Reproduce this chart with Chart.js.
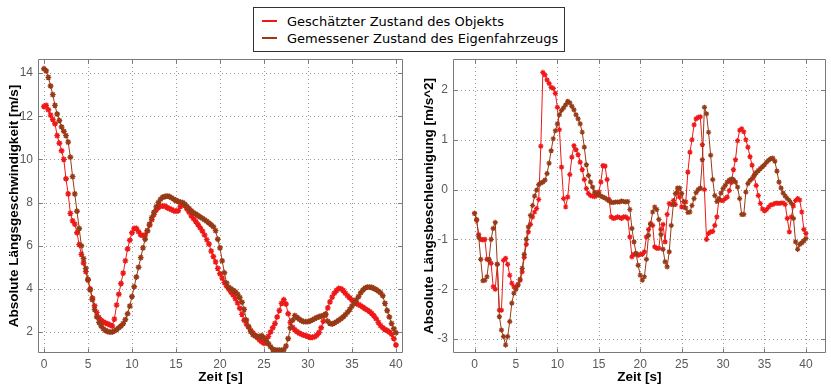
<!DOCTYPE html>
<html>
<head>
<meta charset="utf-8">
<script src="https://cdn.jsdelivr.net/npm/chart.js@4"></script>
<style>
  html, body { margin: 0; padding: 0; background: #fff; }
  #wrap { position: relative; width: 831px; height: 387px; overflow: hidden; background: #fff; }
  #wrap canvas { position: absolute; top: 0; }
  #cV { left: 0; }
  #cA { left: 415px; }
  #legend {
    position: absolute; left: 253px; top: 7px; width: 310px; height: 43px;
    border: 1px solid #333; background: #fff; z-index: 2;
    font: 13px "DejaVu Sans", sans-serif; color: #000;
  }
  #legend .row { position: absolute; left: 8px; height: 16px; display: flex; align-items: center; white-space: nowrap; }
  #legend .sw { width: 15px; height: 2px; margin-right: 10px; }
</style>
</head>
<body>
<div id="wrap">
  <canvas id="cV" width="415" height="387"></canvas>
  <canvas id="cA" width="416" height="387"></canvas>
  <div id="legend">
    <div class="row" style="top:5px"><span class="sw" id="swEst"></span><span id="lbEst"></span></div>
    <div class="row" style="top:22px"><span class="sw" id="swMeas"></span><span id="lbMeas"></span></div>
  </div>
</div>
<script>
// Sample times [s]
const time = [
  0, 0.25, 0.5, 0.75, 1, 1.25, 1.5, 1.75,
  2, 2.25, 2.5, 2.75, 3, 3.25, 3.5, 3.75,
  4, 4.25, 4.5, 4.75, 5, 5.25, 5.5, 5.75,
  6, 6.25, 6.5, 6.75, 7, 7.25, 7.5, 7.75,
  8, 8.25, 8.5, 8.75, 9, 9.25, 9.5, 9.75,
  10, 10.25, 10.5, 10.75, 11, 11.25, 11.5, 11.75,
  12, 12.25, 12.5, 12.75, 13, 13.25, 13.5, 13.75,
  14, 14.25, 14.5, 14.75, 15, 15.25, 15.5, 15.75,
  16, 16.25, 16.5, 16.75, 17, 17.25, 17.5, 17.75,
  18, 18.25, 18.5, 18.75, 19, 19.25, 19.5, 19.75,
  20, 20.25, 20.5, 20.75, 21, 21.25, 21.5, 21.75,
  22, 22.25, 22.5, 22.75, 23, 23.25, 23.5, 23.75,
  24, 24.25, 24.5, 24.75, 25, 25.25, 25.5, 25.75,
  26, 26.25, 26.5, 26.75, 27, 27.25, 27.5, 27.75,
  28, 28.25, 28.5, 28.75, 29, 29.25, 29.5, 29.75,
  30, 30.25, 30.5, 30.75, 31, 31.25, 31.5, 31.75,
  32, 32.25, 32.5, 32.75, 33, 33.25, 33.5, 33.75,
  34, 34.25, 34.5, 34.75, 35, 35.25, 35.5, 35.75,
  36, 36.25, 36.5, 36.75, 37, 37.25, 37.5, 37.75,
  38, 38.25, 38.5, 38.75, 39, 39.25, 39.5, 39.75,
  40
];

// Longitudinal speed [m/s]: estimated object state
const speedEst = [
  12.45, 12.5, 12.3, 12.05, 11.85, 11.65, 11.1, 10.75,
  10.4, 10.0, 9.1, 8.4, 7.5, 7.15, 7.0, 6.6,
  6.05, 5.6, 5.2, 4.8, 4.4, 4.0, 3.58, 3.22,
  2.9, 2.67, 2.55, 2.47, 2.42, 2.38, 2.33, 2.28,
  2.6, 3.25, 3.75, 4.25, 4.73, 5.3, 5.85, 6.25,
  6.6, 6.8, 6.8, 6.65, 6.5, 6.47, 6.5, 6.68,
  6.95, 7.2, 7.45, 7.65, 7.77, 7.83, 7.84, 7.83,
  7.77, 7.72, 7.67, 7.62, 7.6, 7.62, 7.82, 7.94,
  7.86, 7.7, 7.55, 7.38, 7.25, 7.12, 6.98, 6.83,
  6.68, 6.5, 6.28, 6.08, 5.75, 5.5, 5.25, 4.95,
  4.7, 4.5, 4.3, 4.12, 3.98, 3.85, 3.72, 3.55,
  3.35, 3.1, 2.82, 2.55, 2.38, 2.22, 2.07, 1.95,
  1.85, 1.75, 1.63, 1.55, 1.48, 1.5, 1.8, 2.0,
  2.2, 2.4, 2.7, 3.0, 3.33, 3.5, 3.3, 2.85,
  2.45, 2.22, 2.1, 2.02, 1.95, 1.9, 1.86, 1.83,
  1.8, 1.75, 1.76, 1.78, 1.85, 1.98, 2.2, 2.5,
  2.8, 3.12, 3.4, 3.62, 3.8, 3.93, 4.02, 4.0,
  3.93, 3.8, 3.68, 3.58, 3.48, 3.4, 3.33, 3.27,
  3.22, 3.15, 3.08, 3.02, 2.95, 2.86, 2.75, 2.62,
  2.45, 2.3, 2.2, 2.12, 2.07, 2.0, 1.9, 1.7,
  1.4
];

// Longitudinal speed [m/s]: measured ego vehicle state
const speedMeas = [
  14.2, 14.1, 13.8, 13.4, 13.0, 12.5, 12.1, 11.8,
  11.5, 11.3, 11.1, 10.8, 10.1, 9.2, 8.4, 7.6,
  6.8, 6.0, 5.4, 4.95, 4.45, 3.95, 3.5, 3.05,
  2.7, 2.45, 2.28, 2.15, 2.08, 2.02, 2.0, 2.0,
  2.05, 2.12, 2.2, 2.28, 2.4, 2.58, 2.85, 3.2,
  3.65, 4.1, 4.55, 5.0, 5.45, 5.9, 6.3, 6.7,
  7.0, 7.3, 7.55, 7.8, 8.0, 8.15, 8.25, 8.28,
  8.3, 8.28, 8.22, 8.15, 8.1, 8.05, 8.02, 8.0,
  7.92, 7.82, 7.72, 7.62, 7.53, 7.47, 7.4, 7.33,
  7.27, 7.2, 7.13, 7.05, 6.97, 6.88, 6.7, 6.3,
  5.9, 5.3, 4.75, 4.27, 4.07, 4.0, 3.93, 3.87,
  3.75, 3.6, 3.38, 3.05, 2.56, 2.25, 2.02, 1.88,
  1.82, 1.79, 1.8, 1.83, 1.74, 1.62, 1.47, 1.32,
  1.2, 1.17, 1.16, 1.16, 1.16, 1.18, 1.35, 1.7,
  2.2, 2.55, 2.76, 2.68, 2.6, 2.53, 2.48, 2.48,
  2.48, 2.52, 2.56, 2.62, 2.67, 2.71, 2.74, 2.77,
  2.84, 2.5, 2.4, 2.37, 2.42, 2.48, 2.55, 2.62,
  2.7, 2.8, 2.92, 3.05, 3.2, 3.35, 3.49, 3.65,
  3.82, 3.95, 4.04, 4.08, 4.08, 4.07, 4.02, 3.97,
  3.9, 3.82, 3.68, 3.33, 3.0, 2.7, 2.4, 2.15,
  1.97
];

// Longitudinal acceleration [m/s^2]: estimated object state
const accelEst = [
  -0.48, -0.62, -0.9, -1.0, -1.01, -1.0, -1.4, -1.42,
  -1.48, -1.95, -2.0, -1.5, -2.42, -2.42, -1.42, -1.38,
  -1.5, -1.72, -1.88, -1.95, -1.96, -1.9, -1.82, -1.65,
  -1.36, -1.1, -0.85, -0.7, -0.55, -0.45, -0.38, -0.2,
  0.87, 2.35, 2.3, 2.2, 2.13, 2.05, 2.03, 1.93,
  1.65, 1.2, 0.45, -0.18, -0.35, -0.15, 0.3, 0.65,
  0.88, 0.8, 0.7, 0.55, 0.4, 0.2, 0.02, -0.08,
  -0.12, -0.13, -0.14, -0.12, -0.05, 0.15, 0.48, 0.47,
  0.2, -0.2, -0.55, -0.58, -0.57, -0.55, -0.56, -0.58,
  -0.55, -0.55, -0.58, -0.95, -1.35, -1.3, -1.3, -1.32,
  -1.3, -1.3, -1.25, -0.95, -0.8, -0.68, -0.72, -1.15,
  -1.18, -1.18, -0.8, -0.7, -1.05, -0.5, -0.28, -0.3,
  -0.22, -0.3, -0.05, -0.15, -0.35, -0.35, -0.25, 0.35,
  0.75, 1.0, 1.3, 1.42, 1.45, 1.46, 0.9, 0.0,
  -1.0, -0.88, -0.85, -0.84, -0.72, -0.55, -0.2, -0.22,
  -0.22, -0.18, -0.15, -0.02, 0.14, 0.4, 0.6, 0.98,
  1.19, 1.22, 1.16, 1.0, 0.85, 0.66, 0.49, 0.28,
  0.08, -0.12, -0.28, -0.39, -0.43, -0.4, -0.35, -0.31,
  -0.3, -0.28, -0.27, -0.28, -0.27, -0.27, -0.3, -0.58,
  -0.85, -0.55, -0.33, -0.22, -0.18, -0.21, -0.45, -0.8,
  -0.88
];

// Longitudinal acceleration [m/s^2]: measured ego vehicle state
const accelMeas = [
  -0.48, -0.6, -0.95, -1.4, -1.83, -1.82, -1.75, -1.4,
  -1.0, -0.78, -0.66, -1.5, -2.55, -2.82, -2.95, -3.12,
  -2.95, -2.65, -2.28, -2.08, -2.0, -1.92, -1.8, -1.58,
  -1.3, -1.0, -0.75, -0.52, -0.32, -0.13, -0.01, 0.1,
  0.13, 0.15, 0.19, 0.32, 0.53, 0.78, 1.02, 1.18,
  1.32, 1.5, 1.59, 1.64, 1.7, 1.77, 1.74, 1.67,
  1.6, 1.5, 1.42, 1.32, 1.15, 0.85, 0.5, 0.28,
  0.15, 0.05, -0.05, -0.09, -0.1, -0.13, -0.15, -0.17,
  -0.2, -0.23, -0.26, -0.26, -0.25, -0.25, -0.25, -0.23,
  -0.24, -0.25, -0.24, -0.4, -0.78, -1.05, -1.28, -1.52,
  -1.72, -1.82, -1.75, -1.4, -0.92, -0.7, -0.45, -0.35,
  -0.4, -0.6, -0.9, -1.2, -1.45, -1.55, -1.25, -0.72,
  -0.3, -0.08, 0.03, 0.03, -0.08, -0.24, -0.37, -0.46,
  -0.45, -0.32, -0.18, -0.06, 0.0, 0.03, 0.6, 1.65,
  1.52, 1.15, 0.69, 0.2, -0.12, -0.24, -0.18, -0.07,
  0.02, 0.08, 0.15, 0.19, 0.21, 0.2, 0.15, 0.05,
  -0.18, -0.5, -0.5, -0.05, 0.12, 0.18, 0.22, 0.28,
  0.34, 0.38, 0.42, 0.46, 0.5, 0.55, 0.59, 0.62,
  0.63, 0.57, 0.37, 0.15, 0.03, -0.07, -0.13, -0.18,
  -0.22, -0.28, -0.58, -1.05, -1.2, -1.1, -1.07, -1.03,
  -0.98
];

// Axis ticks
const timeTicks  = [0, 5, 10, 15, 20, 25, 30, 35, 40];
const speedTicks = [2, 4, 6, 8, 10, 12, 14];
const accelTicks = [-3, -2, -1, 0, 1, 2];

// Labels
const seriesNames = ['Geschätzter Zustand des Objekts', 'Gemessener Zustand des Eigenfahrzeugs'];
const xTitle = 'Zeit [s]';
const speedTitle = 'Absolute Längsgeschwindigkeit [m/s]';
const accelTitle = 'Absolute Längsbeschleunigung [m/s^2]';

const COL_EST = '#ef1717';
const COL_MEAS = '#973a16';

// HTML legend shared by both panels
document.getElementById('swEst').style.background = COL_EST;
document.getElementById('swMeas').style.background = COL_MEAS;
document.getElementById('lbEst').textContent = seriesNames[0];
document.getElementById('lbMeas').textContent = seriesNames[1];

// Dotted grid under the data, grey box with inward tick marks on top
const boxPlugin = {
  id: 'box',
  beforeDatasetsDraw(chart) {
    const { ctx, chartArea: a, scales: { x, y } } = chart;
    ctx.save();
    ctx.strokeStyle = '#9a9a9a';
    ctx.lineWidth = 1;
    ctx.setLineDash([1, 3]);
    ctx.beginPath();
    x.ticks.forEach(t => {
      const px = Math.round(x.getPixelForValue(t.value)) + 0.5;
      ctx.moveTo(px, a.top); ctx.lineTo(px, a.bottom);
    });
    y.ticks.forEach(t => {
      const py = Math.round(y.getPixelForValue(t.value)) + 0.5;
      ctx.moveTo(a.left, py); ctx.lineTo(a.right, py);
    });
    ctx.stroke();
    ctx.restore();
  },
  afterDraw(chart) {
    const { ctx, chartArea: a, scales: { x, y } } = chart;
    const L = Math.round(a.left) + 0.5, R = Math.round(a.right) - 0.5;
    const T = Math.round(a.top) + 0.5, B = Math.round(a.bottom) - 0.5;
    const len = 4;
    ctx.save();
    ctx.setLineDash([]);
    ctx.strokeStyle = '#7a7a7a';
    ctx.lineWidth = 1;
    ctx.beginPath();
    ctx.rect(L, T, R - L, B - T);
    x.ticks.forEach(t => {
      const px = Math.round(x.getPixelForValue(t.value)) + 0.5;
      ctx.moveTo(px, T); ctx.lineTo(px, T + len);
      ctx.moveTo(px, B); ctx.lineTo(px, B - len);
    });
    y.ticks.forEach(t => {
      const py = Math.round(y.getPixelForValue(t.value)) + 0.5;
      ctx.moveTo(L, py); ctx.lineTo(L + len, py);
      ctx.moveTo(R, py); ctx.lineTo(R - len, py);
    });
    ctx.stroke();
    ctx.restore();
  }
};

function series(values, color, label, order, marker) {
  return {
    label,
    data: time.map((t, i) => ({ x: t, y: values[i] })),
    borderColor: color,
    backgroundColor: color,
    borderWidth: 1,
    pointStyle: 'star',
    pointRadius: marker.r,
    pointBorderWidth: marker.w,
    pointBorderColor: color,
    pointBackgroundColor: color,
    tension: 0,
    order
  };
}

function panel(canvasId, cfg) {
  const tickFont = { family: 'Liberation Sans', size: 12 };
  const titleFont = { family: 'Liberation Sans', size: 13.5, weight: 'bold' };
  return new Chart(document.getElementById(canvasId), {
    type: 'line',
    data: {
      datasets: [
        series(cfg.est, COL_EST, seriesNames[0], 2, cfg.marker),
        series(cfg.meas, COL_MEAS, seriesNames[1], 1, cfg.marker)
      ]
    },
    plugins: [boxPlugin],
    options: {
      responsive: false,
      animation: false,
      devicePixelRatio: 1,
      layout: { padding: { top: 59, right: cfg.padRight, left: 0, bottom: 0 } },
      plugins: { legend: { display: false }, tooltip: { enabled: false } },
      scales: {
        x: {
          type: 'linear',
          min: cfg.xMin, max: cfg.xMax,
          afterBuildTicks: s => { s.ticks = timeTicks.map(v => ({ value: v })); },
          afterFit: s => { s.height = 34; },
          grid: { display: false, drawTicks: false },
          border: { display: false },
          ticks: { font: tickFont, color: '#5a5a5a', padding: 4, maxRotation: 0 },
          title: { display: true, text: xTitle, font: titleFont, color: '#000', padding: { top: 0, bottom: 2 } }
        },
        y: {
          type: 'linear',
          min: cfg.yMin, max: cfg.yMax,
          afterBuildTicks: s => { s.ticks = cfg.yTicks.map(v => ({ value: v })); },
          afterFit: s => { s.width = 38; },
          grid: { display: false, drawTicks: false },
          border: { display: false },
          ticks: { font: tickFont, color: '#5a5a5a', padding: 5 },
          title: { display: true, text: cfg.yTitle, font: titleFont, color: '#000', padding: { top: 6, bottom: 0 } }
        }
      }
    }
  });
}

panel('cV', {
  est: speedEst, meas: speedMeas,
  xMin: -0.68, xMax: 40.8, yMin: 1.03, yMax: 14.65,
  yTicks: speedTicks, yTitle: speedTitle, padRight: 12,
  marker: { r: 2.9, w: 1.4 }
});

panel('cA', {
  est: accelEst, meas: accelMeas,
  xMin: -2.6, xMax: 42.4, yMin: -3.28, yMax: 2.62,
  yTicks: accelTicks, yTitle: accelTitle, padRight: 4,
  marker: { r: 2.6, w: 1.2 }
});
</script>
</body>
</html>
